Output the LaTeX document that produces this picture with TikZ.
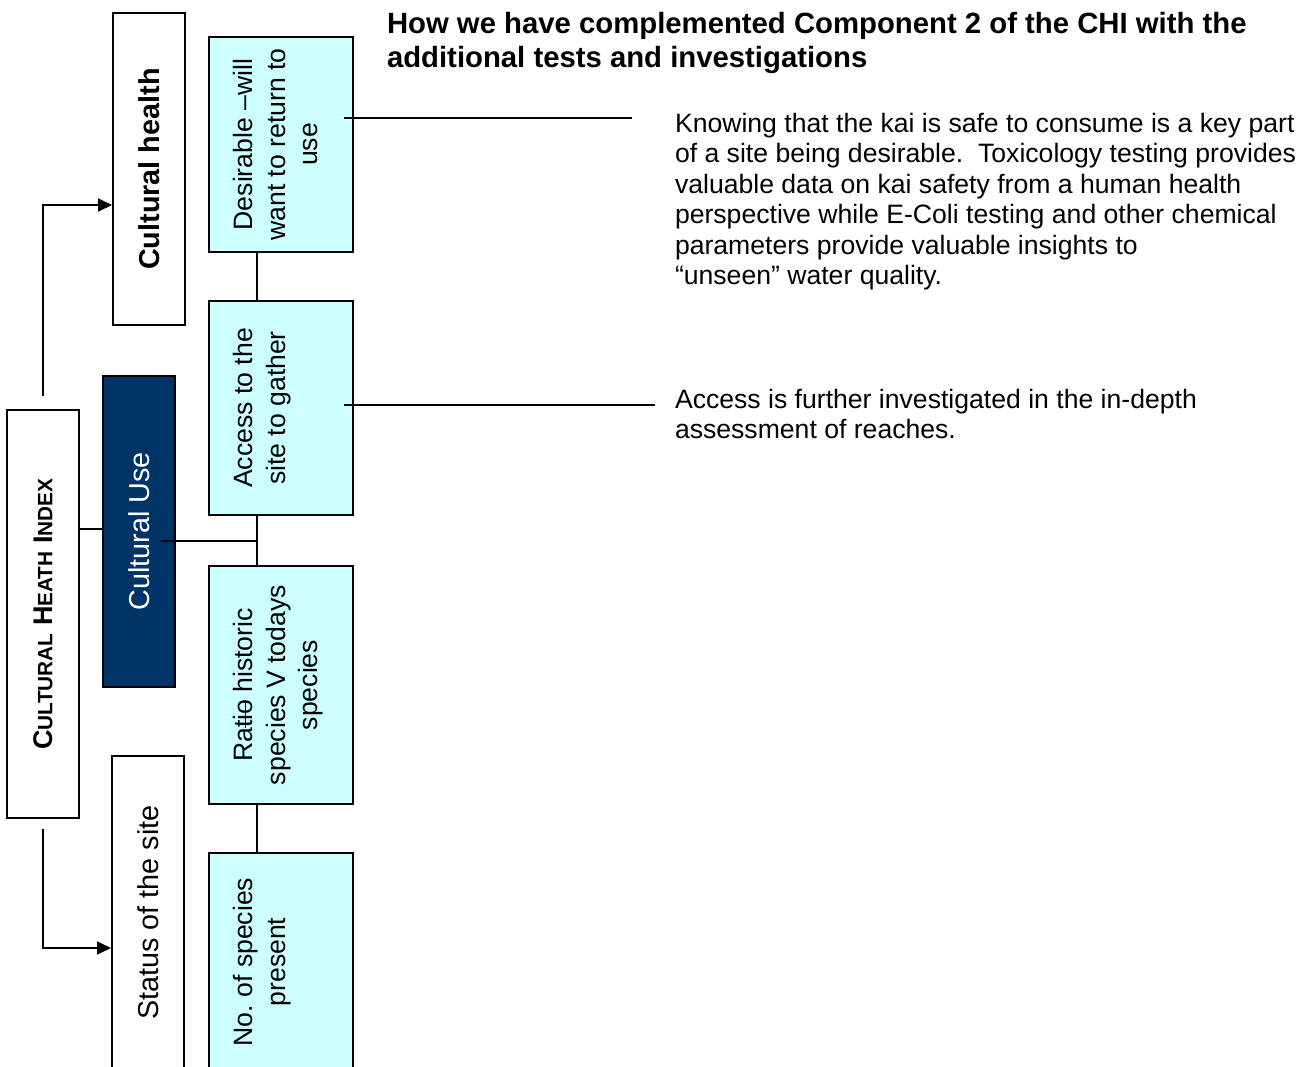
\documentclass[tikz,border=0pt]{standalone}
\usepackage{fontspec}
\setmainfont{Liberation Sans}
\usetikzlibrary{arrows.meta}

\definecolor{cellcyan}{RGB}{204,255,255}
\definecolor{usenavy}{RGB}{0,51,102}

\newcommand{\cellbox}[1]{\parbox[c][95pt][t]{200pt}{\centering #1}}
\newcommand{\smc}[1]{{\fontsize{20.8}{24}\selectfont #1}}
\newsavebox{\strikebox}
\newcommand{\strike}[1]{\sbox{\strikebox}{#1}\rlap{\rule[0.25em]{\wd\strikebox}{1.5pt}}#1}

\begin{document}
\begin{tikzpicture}[x=1pt, y=-1pt, line width=2pt,
    box/.style={draw, rotate=90, inner sep=0pt, minimum height=72pt},
    cell/.style={box, fill=cellcyan, minimum height=144pt, font=\fontsize{26.6}{32.5}\selectfont},
    arr/.style={-{Triangle[length=14pt,width=13pt]}}]
    \useasboundingbox (0,0) rectangle (1316,1066);

    % Left column
    \node[box, minimum width=408pt, font=\bfseries\fontsize{27}{30}\selectfont] (chi) at (43,614) {C\smc{ULTURAL} H\smc{EATH} I\smc{NDEX}};
    \node[box, minimum width=312pt, font=\bfseries\fontsize{28.8}{34}\selectfont] (health) at (149,169) {Cultural health};
    \node[box, fill=usenavy, text=white, minimum width=311pt, font=\fontsize{28.8}{34}\selectfont] (use) at (139,531.5) {Cultural Use};
    \node[box, minimum width=313pt, font=\fontsize{28.8}{34}\selectfont] (status) at (148,912.5) {Status of the site};

    % Cyan column
    \node[cell, minimum width=215pt] (desire) at (281,144.5) {\cellbox{Desirable –will\\want to return to\\use}};
    \node[cell, minimum width=214pt] (access) at (281,408) {\cellbox{Access to the\\site to gather}};
    \node[cell, minimum width=238pt] (ratio) at (281,685) {\cellbox{Ra\strike{tio} historic\\species V todays\\species}};
    \node[cell, minimum width=218pt] (numsp) at (281,962) {\cellbox{No.\ of species\\present}};

    % Text on the right
    \node[anchor=north west, inner sep=0pt, align=left, font=\bfseries\fontsize{29.3}{34}\selectfont] (title) at (386,11) {How we have complemented Component 2 of the CHI with the\\additional tests and investigations};
    \node[anchor=north west, inner sep=0pt, align=left, font=\fontsize{26.6}{30.5}\selectfont] (safety) at (674,112) {Knowing that the kai is safe to consume is a key part\\of a site being desirable.\ \ Toxicology testing provides\\valuable data on kai safety from a human health\\perspective while E-Coli testing and other chemical\\parameters provide valuable insights to\\“unseen” water quality.};
    \node[anchor=north west, inner sep=0pt, align=left, font=\fontsize{26.6}{30.5}\selectfont] (reach) at (674,388) {Access is further investigated in the in-depth\\assessment of reaches.};

    % Connectors
    \coordinate (k1) at (632,118);
    \coordinate (k2) at (655,405);
    \coordinate (spine) at (257,541);
    \draw ([xshift=-10pt]desire.south |- k1) -- (k1);
    \draw ([xshift=-10pt]access.south |- k2) -- (k2);
    \draw ([yshift=2.5pt]chi.south |- use.north) -- ([yshift=2.5pt]use.north);
    \draw ([xshift=-15pt]use.south |- spine) -- (spine);
    \draw ([xshift=-24pt]desire.west) -- ([xshift=-24pt]access.east);
    \draw ([xshift=-24pt]access.west) -- ([xshift=-24pt]ratio.east);
    \draw ([xshift=-24pt]ratio.west) -- ([xshift=-24pt]numsp.east);
    \draw[arr] ([yshift=13pt]chi.east) |- ([yshift=-36pt]health.north);
    \draw[arr] ([yshift=-10pt]chi.west) |- ([yshift=-35.5pt]status.north);
\end{tikzpicture}
\end{document}
